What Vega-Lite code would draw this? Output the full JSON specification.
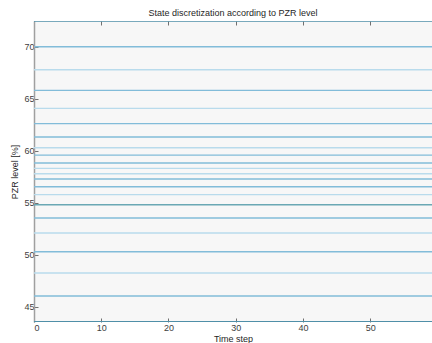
{
  "$schema": "https://vega.github.io/schema/vega-lite/v6.json",
  "width": 398,
  "height": 301,
  "autosize": {"type": "none"},
  "padding": {"left": 34, "top": 21, "right": 0, "bottom": 21},
  "background": "white",
  "config": {
    "view": {"fill": "#f7f7f7", "stroke": null},
    "font": "Liberation Sans",
    "axis": {
      "labelFont": "Liberation Sans",
      "titleFont": "Liberation Sans",
      "labelFontSize": 9,
      "titleFontSize": 9,
      "titleFontWeight": "normal",
      "labelColor": "#404040",
      "titleColor": "#262626",
      "tickColor": "#707070",
      "tickWidth": 1,
      "domainColor": "#a0a0a0",
      "grid": false
    }
  },
  "title": {
    "text": "State discretization according to PZR level",
    "fontSize": 9,
    "fontWeight": "normal",
    "color": "#262626",
    "font": "Liberation Sans",
    "offset": 3
  },
  "data": {
    "values": [
      {"level": 72.47, "from": 0, "to": 60, "shade": "edge"},
      {"level": 70.0, "from": 0, "to": 60, "shade": "medium"},
      {"level": 67.79, "from": 0, "to": 60, "shade": "light"},
      {"level": 65.8, "from": 0, "to": 60, "shade": "medium"},
      {"level": 64.07, "from": 0, "to": 60, "shade": "light"},
      {"level": 62.6, "from": 0, "to": 60, "shade": "medium"},
      {"level": 61.32, "from": 0, "to": 60, "shade": "medium"},
      {"level": 60.29, "from": 0, "to": 60, "shade": "light"},
      {"level": 59.57, "from": 0, "to": 60, "shade": "medium"},
      {"level": 58.82, "from": 0, "to": 60, "shade": "medium"},
      {"level": 58.3, "from": 0, "to": 60, "shade": "light"},
      {"level": 57.79, "from": 0, "to": 60, "shade": "light"},
      {"level": 57.28, "from": 0, "to": 60, "shade": "medium"},
      {"level": 56.53, "from": 0, "to": 60, "shade": "medium"},
      {"level": 55.78, "from": 0, "to": 60, "shade": "light"},
      {"level": 54.8, "from": 0, "to": 60, "shade": "teal"},
      {"level": 53.53, "from": 0, "to": 60, "shade": "medium"},
      {"level": 52.08, "from": 0, "to": 60, "shade": "light"},
      {"level": 50.29, "from": 0, "to": 60, "shade": "medium"},
      {"level": 48.24, "from": 0, "to": 60, "shade": "light"},
      {"level": 46.03, "from": 0, "to": 60, "shade": "medium"},
      {"level": 43.55, "from": 0, "to": 60, "shade": "edge"}
    ]
  },
  "layer": [
    {
      "mark": {"type": "rule", "strokeWidth": 1.4, "clip": true},
      "encoding": {
        "x": {
          "field": "from",
          "type": "quantitative",
          "scale": {"domain": [0, 59.2], "nice": false, "zero": false},
          "axis": {
            "orient": "bottom",
            "values": [0, 10, 20, 30, 40, 50],
            "title": "Time step",
            "tickSize": -4,
            "labelPadding": 5,
            "titlePadding": 2,
            "domain": false
          }
        },
        "x2": {"field": "to"},
        "y": {
          "field": "level",
          "type": "quantitative",
          "scale": {"domain": [43.53, 72.47], "nice": false, "zero": false},
          "axis": {
            "values": [45, 50, 55, 60, 65, 70],
            "title": "PZR level [%]",
            "tickSize": -4,
            "labelPadding": 4,
            "titlePadding": 4,
            "domainWidth": 1.5
          }
        },
        "color": {
          "field": "shade",
          "type": "nominal",
          "scale": {
            "domain": ["light", "medium", "teal", "edge"],
            "range": ["#b9dbec", "#82bcd9", "#6aa8b4", "#4f8fa8"]
          },
          "legend": null
        }
      }
    },
    {
      "mark": {"type": "rule", "opacity": 0},
      "encoding": {
        "x": {
          "field": "from",
          "type": "quantitative",
          "axis": {
            "orient": "top",
            "values": [0, 10, 20, 30, 40, 50],
            "labels": false,
            "title": null,
            "tickSize": -4,
            "domain": false
          }
        }
      }
    }
  ],
  "resolve": {"axis": {"x": "independent"}}
}
